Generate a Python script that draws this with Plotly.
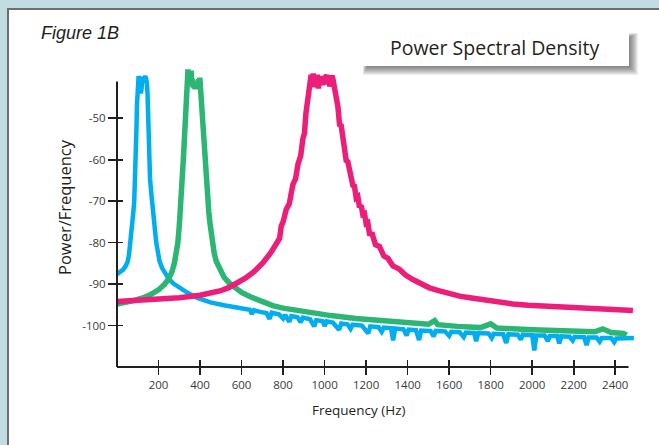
import plotly.graph_objects as go

# ---------------- data ----------------
blue_hz = [0, 15, 30, 42, 52, 58, 65, 72, 79, 83, 87, 90, 92, 94, 96, 98, 100, 104, 108, 112,
           115, 118, 121, 125, 130, 135, 140, 144, 147, 149, 152, 155, 159, 163, 168, 172, 177,
           183, 189, 196, 205, 218, 232, 250, 275, 300, 340, 390, 450, 515, 600, 640, 650, 660,
           690, 720, 735, 745, 780, 800, 810, 830, 840, 870, 885, 895, 930, 950, 960, 990, 1000,
           1010, 1040, 1070, 1080, 1110, 1125, 1135, 1180, 1210, 1220, 1260, 1275, 1285, 1320,
           1330, 1340, 1380, 1395, 1405, 1440, 1455, 1465, 1510, 1525, 1535, 1580, 1600, 1610,
           1650, 1670, 1680, 1720, 1730, 1740, 1790, 1805, 1815, 1860, 1875, 1885, 1930, 1945,
           1955, 2000, 2010, 2020, 2060, 2075, 2085, 2120, 2130, 2140, 2180, 2195, 2205, 2250,
           2262, 2272, 2310, 2325, 2335, 2380, 2395, 2405, 2440, 2490]
blue_db = [-87.6, -87.2, -86.5, -85.6, -84.5, -82.8, -80, -76.5, -72.5, -70, -65.5, -61, -57, -52,
           -47, -43, -40.5, -39.8, -40.8, -42.5, -44, -43, -41.5, -40, -40.6, -39.8, -40.4, -41.5,
           -44, -48.5, -54, -60, -64.5, -67, -69, -70.5, -73.5, -77, -80, -82.5, -84.5, -86.2,
           -87.6, -88.8, -90, -90.9, -92.1, -93.4, -94.4, -95.1, -95.9, -96.2, -97.2, -96.3,
           -96.7, -97.0, -98.4, -96.9, -97.3, -98.3, -97.4, -99.1, -97.7, -98.0, -99.2, -98.1,
           -98.5, -100.2, -98.7, -98.9, -100.1, -99.0, -99.3, -101.0, -99.5, -99.7, -100.8,
           -99.8, -100.0, -101.9, -100.2, -100.4, -101.5, -100.5, -100.6, -103.6, -100.7, -100.9,
           -102.4, -101.0, -101.1, -103.5, -101.2, -101.3, -102.6, -101.3, -101.4, -102.5,
           -101.5, -101.6, -102.8, -101.7, -101.8, -103.8, -101.8, -101.9, -103.0, -102.0,
           -102.1, -104.2, -102.1, -102.2, -103.4, -102.2, -102.3, -106.0, -102.4, -102.4,
           -103.8, -102.5, -102.5, -104.3, -102.6, -102.7, -103.6, -102.7, -102.8, -104.7,
           -102.9, -102.9, -103.9, -103.0, -103.0, -104.0, -103.1, -103.1, -103.0]

green_hz = [0, 40, 80, 120, 160, 200, 230, 250, 265, 277, 286, 293, 300, 305, 309, 313, 317, 320,
            324, 327, 330, 332, 334, 336, 339, 342, 345, 348, 351, 354, 357, 360, 363, 366, 369,
            372, 375, 378, 381, 384, 387, 390, 393, 396, 399, 402, 405, 408, 411, 415, 418, 421,
            425, 429, 433, 437, 442, 447, 453, 459, 468, 478, 495, 515, 540, 570, 600, 640, 690,
            750, 800, 860, 940, 1030, 1150, 1290, 1400, 1500, 1530, 1545, 1640, 1750, 1800, 1830,
            2000, 2100, 2200, 2300, 2340, 2380, 2440, 2455]
green_db = [-94.8, -94.5, -94.0, -93.4, -92.6, -91.4, -90, -88.6, -87, -84.8, -82.5, -80, -76, -73,
            -70, -66, -62, -59.5, -55, -51.5, -48.5, -45, -42, -39.5, -41.5, -38.2, -40.8, -39,
            -42, -40, -38.5, -41.5, -40.5, -42.5, -41.2, -42.8, -41.5, -43, -41.8, -42.6, -41,
            -42.3, -40.6, -41.8, -40.2, -42.5, -45, -48.5, -51.5, -55, -58, -60.5, -63, -65.5,
            -68, -70.3, -72.5, -75, -77.5, -80, -82.5, -84.5, -86.6, -88.3, -89.7, -91, -92, -93,
            -94.1, -95.2, -95.8, -96.3, -97, -97.6, -98.3, -98.9, -99.3, -99.7, -98.8, -99.8,
            -100.2, -100.5, -99.6, -100.6, -101, -101.2, -101.4, -101.5, -100.8, -101.7, -101.9,
            -102.3]

pink_hz = [0, 100, 200, 300, 400, 450, 500, 540, 580, 620, 660, 700, 740, 783, 791, 800, 815, 830,
           847, 860, 872, 885, 895, 903, 910, 915, 920, 927, 933, 935, 940, 945, 950, 955, 960,
           965, 970, 975, 980, 985, 990, 995, 1000, 1005, 1010, 1015, 1020, 1025, 1030, 1035,
           1040, 1045, 1050, 1056, 1064, 1072, 1080, 1088, 1096, 1104, 1112, 1120, 1128, 1136,
           1144, 1152, 1160, 1168, 1176, 1184, 1192, 1200, 1208, 1216, 1230, 1245, 1264, 1285,
           1305, 1329, 1360, 1390, 1425, 1465, 1505, 1545, 1586, 1650, 1700, 1746, 1820, 1907,
           1980, 2067, 2150, 2228, 2350, 2485]
pink_db = [-94.2, -94.0, -93.7, -93.3, -92.7, -92.3, -91.6, -90.8, -89.8, -88.5, -87, -85, -82.5,
           -79, -76.0, -75.0, -72.0, -70.6, -66.0, -64.6, -61.0, -59.0, -55.0, -53.6, -48.8, -47,
           -45.5, -43, -41, -39.5, -41, -39.2, -42.5, -40, -41.5, -39.5, -42.8, -40.5, -41, -39.8,
           -42, -40.2, -41.8, -40, -39.6, -41.5, -40.3, -42.3, -40.5, -39.7, -40.5, -41.5, -43,
           -45, -47.2, -51.5, -51.8, -55.6, -56.9, -60.2, -60.5, -62.8, -63.3, -66.2, -66.4,
           -69.2, -68.9, -71.5, -71.0, -73.2, -73.0, -75.4, -75.2, -77.8, -78.0, -80.5, -80.9,
           -83.2, -83.8, -85.6, -86.4, -87.8, -88.9, -90, -90.9, -91.5, -92.1, -92.9, -93.3,
           -93.7, -94.2, -94.8, -95.1, -95.3, -95.6, -95.9, -96.2, -96.4]

x_ticks = [200, 400, 600, 800, 1000, 1200, 1400, 1600, 1800, 2000, 2200, 2400]
x_tick_labels = ["200", "400", "600", "800", "1000", "1200", "1400", "1600", "1800", "2000",
                 "2200", "2400"]
y_ticks = [-50, -60, -70, -80, -90, -100]
y_tick_labels = ["-50", "-60", "-70", "-80", "-90", "-100"]

# ---------------- layout geometry (page pixels) ----------------
W, H = 659, 445
L, R, T, B = 117, 23, 59, 78
PW, PH = W - L - R, H - T - B
X_RANGE = [0, 2500]
Y_RANGE = [-110, -35.7]
X_AXIS_END = 2464
Y_AXIS_TOP = -41.1
BG = "#c2dce2"


def pxx(xp):
    return (xp - L) / PW


def pxy(yp):
    return (H - B - yp) / PH


def dx(v):
    return (v - X_RANGE[0]) / (X_RANGE[1] - X_RANGE[0])


def dy(v):
    return (v - Y_RANGE[0]) / (Y_RANGE[1] - Y_RANGE[0])


INK = "#231f20"
TXT = "#3a3a3a"
FONT = "Open Sans"

fig = go.Figure()
series = [
    (blue_hz, blue_db, "#00aeef", 4.5),
    (green_hz, green_db, "#2bb673", 5.5),
    (pink_hz, pink_db, "#ed1e79", 5.5),
]
for hz, db, col, w in series:
    fig.add_trace(go.Scatter(x=hz, y=db, mode="lines", line=dict(color=col, width=w),
                             hoverinfo="skip", showlegend=False))
# empty trace to host the overlay axes (inner half of the crossing ticks)
fig.add_trace(go.Scatter(x=[None], y=[None], xaxis="x2", yaxis="y2", showlegend=False,
                         hoverinfo="skip"))

common = dict(showgrid=False, zeroline=False, showline=False, fixedrange=True)
fig.update_layout(
    width=W, height=H,
    margin=dict(l=L, r=R, t=T, b=B, pad=0),
    paper_bgcolor=BG,
    plot_bgcolor="rgba(0,0,0,0)",
    hovermode=False,
    xaxis=dict(range=X_RANGE, tickvals=x_ticks, ticktext=x_tick_labels, ticks="outside",
               ticklen=7, tickwidth=1.6, tickcolor=INK,
               tickfont=dict(family=FONT, size=11.5, color=TXT), **common),
    yaxis=dict(range=Y_RANGE, tickvals=y_ticks, ticktext=y_tick_labels, ticks="outside",
               ticklen=8, tickwidth=1.6, tickcolor=INK,
               tickfont=dict(family=FONT, size=11.5, color=TXT), **common),
    xaxis2=dict(range=X_RANGE, tickvals=x_ticks, ticks="inside", ticklen=7, tickwidth=1.6,
                tickcolor=INK, showticklabels=False, overlaying="x", anchor="y2", **common),
    yaxis2=dict(range=Y_RANGE, tickvals=y_ticks, ticks="inside", ticklen=6, tickwidth=1.6,
                tickcolor=INK, showticklabels=False, overlaying="y", anchor="x2", **common),
)

shapes = []
# white panel with grey border
shapes.append(dict(type="rect", xref="paper", yref="paper", x0=pxx(8), x1=pxx(700),
                   y0=pxy(9), y1=pxy(500), fillcolor="white",
                   line=dict(color="#6d6e71", width=2), layer="below"))
# axis lines
shapes.append(dict(type="line", xref="paper", yref="paper", x0=dx(0), x1=dx(X_AXIS_END),
                   y0=dy(Y_RANGE[0]), y1=dy(Y_RANGE[0]), line=dict(color=INK, width=2)))
shapes.append(dict(type="line", xref="paper", yref="paper", x0=dx(0), x1=dx(0),
                   y0=dy(Y_RANGE[0]), y1=dy(Y_AXIS_TOP), line=dict(color=INK, width=2)))
# title box: soft shadow + white box
bx0, bx1, by0, by1 = 359, 629, 29, 66
for i in range(9):
    shapes.append(dict(type="rect", xref="paper", yref="paper",
                       x0=pxx(bx0 + 8 - i * 0.5), x1=pxx(bx1 + 1 + i),
                       y0=pxy(by0 + 8 - i * 0.5), y1=pxy(by1 + 1 + i),
                       fillcolor="rgba(30,30,30,0.075)", line=dict(width=0), layer="above"))
shapes.append(dict(type="rect", xref="paper", yref="paper", x0=pxx(bx0), x1=pxx(bx1),
                   y0=pxy(by0), y1=pxy(by1), fillcolor="white", line=dict(width=0),
                   layer="above"))
fig.update_layout(shapes=shapes)

annotations = [
    dict(text="Power Spectral Density", x=pxx((bx0 + bx1) / 2), y=pxy((by0 + by1) / 2),
         font=dict(family=FONT, size=19.5, color=INK)),
    dict(text="<i>Figure 1B</i>", x=pxx(39), y=pxy(33), xanchor="left",
         font=dict(family="Liberation Sans", size=18, color=INK)),
    dict(text="Power/Frequency", x=pxx(64), y=pxy(207), textangle=-90,
         font=dict(family=FONT, size=16.5, color=INK)),
    dict(text="Frequency (Hz)", x=pxx(358), y=pxy(410),
         font=dict(family=FONT, size=13.5, color=INK)),
]
for a in annotations:
    a.update(xref="paper", yref="paper", showarrow=False)
    a.setdefault("xanchor", "center")
    a.setdefault("yanchor", "middle")
fig.update_layout(annotations=annotations)

fig.write_html("out.html", config={"displayModeBar": False, "staticPlot": True},
               post_script="document.body.style.margin='0';"
                           "document.body.style.background='" + BG + "';")
